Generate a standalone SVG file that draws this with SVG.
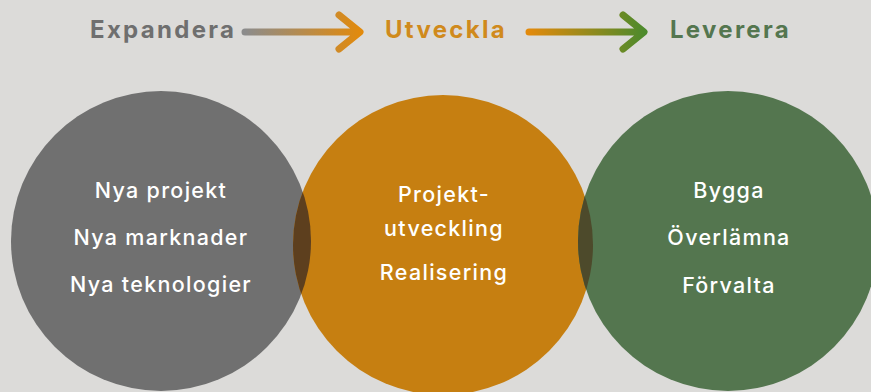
<svg xmlns="http://www.w3.org/2000/svg" width="871" height="392" viewBox="0 0 871 392">
<style>
.h{font-family:Inter,"Liberation Sans",sans-serif;font-weight:bold;font-size:24px;letter-spacing:2.3px}
.b{font-family:Inter,"Noto Sans",sans-serif;font-size:21.5px;font-weight:500;letter-spacing:1.3px;fill:#ffffff;text-anchor:middle}
.arr{fill:none;stroke-width:7;stroke-linecap:round;stroke-linejoin:round}
</style>
<defs>
<linearGradient id="g1" gradientUnits="userSpaceOnUse" x1="245" y1="0" x2="361" y2="0">
<stop offset="0" stop-color="#8c8c8c"/><stop offset="1" stop-color="#e28a0c"/>
</linearGradient>
<linearGradient id="g2" gradientUnits="userSpaceOnUse" x1="529" y1="0" x2="645" y2="0">
<stop offset="0" stop-color="#e28a0c"/><stop offset="1" stop-color="#4c8a2c"/>
</linearGradient>
<clipPath id="cGray"><circle cx="161" cy="241" r="150"/></clipPath>
<clipPath id="cGreen"><circle cx="728" cy="241" r="150"/></clipPath>
</defs>
<rect width="871" height="392" fill="#dcdbd9"/>
<g id="headings">
<text class="h" x="90" y="38" fill="#6f6f6f">Expandera</text>
<text class="h" x="385" y="38" fill="#d08a1c">Utveckla</text>
<text class="h" x="670" y="38" fill="#54764f">Leverera</text>
</g>
<g id="connectors">
<path class="arr" stroke="url(#g1)" d="M245 32 H359 M339 15 L360 32 L339 49"/>
<path class="arr" stroke="url(#g2)" d="M529 32 H643 M623 15 L644 32 L623 49"/>
</g>
<g id="expandera">
<circle cx="161" cy="241" r="150" fill="#707070"/>
</g>
<g id="utveckla">
<circle cx="443" cy="245" r="150" fill="#c67f11"/>
</g>
<g id="leverera">
<circle cx="728" cy="241" r="150" fill="#54764f"/>
</g>
<g id="overlaps">
<circle cx="443" cy="245" r="150" fill="#5d3f1e" clip-path="url(#cGray)"/>
<circle cx="443" cy="245" r="150" fill="#4d4a2b" clip-path="url(#cGreen)"/>
</g>
<g id="labels">
<text class="b" x="161" y="198">Nya projekt</text>
<text class="b" x="161" y="245">Nya marknader</text>
<text class="b" x="161" y="292">Nya teknologier</text>
<text class="b" x="444" y="201.5">Projekt-</text>
<text class="b" x="444" y="236">utveckling</text>
<text class="b" x="444" y="280">Realisering</text>
<text class="b" x="729" y="198">Bygga</text>
<text class="b" x="729" y="245">Överlämna</text>
<text class="b" x="729" y="292.5">Förvalta</text>
</g>
</svg>
